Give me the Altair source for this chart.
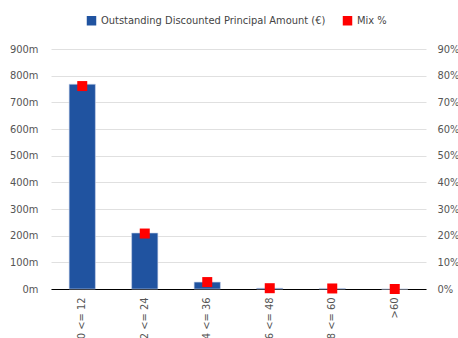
import altair as alt
import pandas as pd

categories = ["0 <= 12", "12 <= 24", "24 <= 36", "36 <= 48", "48 <= 60", ">60"]
amount_m = [768, 210, 26, 3, 2, 0]
mix_pct = [0.761, 0.208, 0.026, 0.003, 0.002, 0.0]

df = pd.DataFrame({"cat": categories, "amount": amount_m, "mix": mix_pct})

FONT = "DejaVu Sans Condensed, Roboto, sans-serif"
BAR_NAME = "Outstanding Discounted Principal Amount (€)"
MIX_NAME = "Mix %"

color_scale = alt.Scale(domain=[BAR_NAME, MIX_NAME], range=["#2053A0", "#FF0000"])

x = alt.X("cat:N", sort=categories, title=None,
          scale=alt.Scale(paddingInner=0.58, paddingOuter=0.29),
          axis=alt.Axis(labelAngle=-90, ticks=False, domainColor="#000000",
                        labelPadding=8, labelFontSize=11, labelColor="#555555",
                        labelFont=FONT))

bars = alt.Chart(df).transform_calculate(series=f"'{BAR_NAME}'").mark_bar(
    stroke="#c9d4ea", strokeWidth=0.6).encode(
    x=x,
    y=alt.Y("amount:Q", title=None,
            scale=alt.Scale(domain=[0, 900], nice=False),
            axis=alt.Axis(values=list(range(0, 901, 100)), labelExpr="datum.value + 'm'",
                          ticks=False, domain=False, gridColor="#e0e0e0",
                          labelFontSize=11, labelColor="#555555", labelFont=FONT,
                          labelPadding=13)),
    color=alt.Color("series:N", scale=color_scale,
                    legend=alt.Legend(title=None, orient="none", direction="horizontal",
                                      legendX=35, legendY=-34, symbolType="square",
                                      symbolSize=90, labelFontSize=11, labelFont=FONT,
                                      labelColor="#444444", columnPadding=16,
                                      labelLimit=400, symbolStrokeWidth=0)),
)

points = alt.Chart(df).transform_calculate(series=f"'{MIX_NAME}'").mark_point(
    shape="square", filled=True, size=100, opacity=1).encode(
    x=x,
    y=alt.Y("mix:Q", title=None,
            scale=alt.Scale(domain=[0, 0.9], nice=False),
            axis=alt.Axis(orient="right", values=[i / 10 for i in range(10)], format=".0%",
                          ticks=False, domain=False, grid=False,
                          labelFontSize=11, labelColor="#555555", labelFont=FONT,
                          labelPadding=11)),
    color=alt.Color("series:N", scale=color_scale),
)

chart = alt.layer(bars, points).resolve_scale(y="independent").properties(
    width=375, height=240,
    autosize=alt.AutoSizeParams(type="none"),
    padding={"left": 51, "top": 49, "right": 32, "bottom": 49},
).configure_view(stroke=None)

chart.save("out.html", embed_options={"renderer": "svg", "actions": False})
